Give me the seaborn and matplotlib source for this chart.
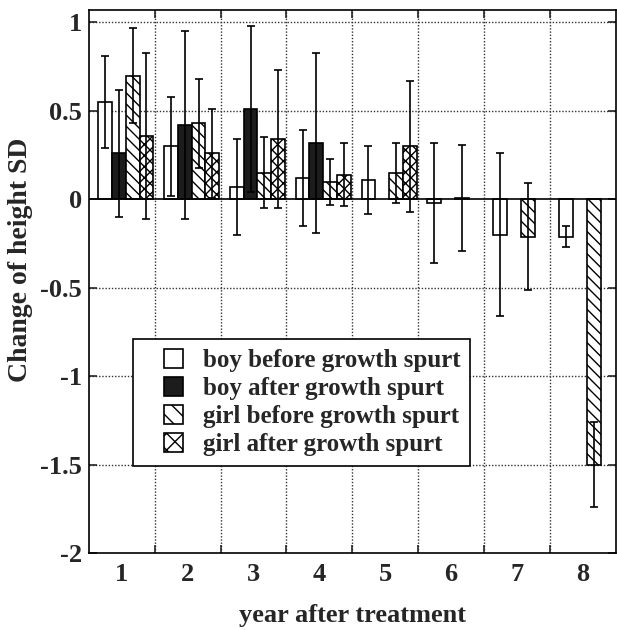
import numpy as np
import pandas as pd
import seaborn as sns
import matplotlib
matplotlib.use("Agg")
import matplotlib.pyplot as plt
from matplotlib.patches import Patch, Rectangle
from matplotlib.legend_handler import HandlerPatch
from matplotlib.ticker import FixedLocator

# ---------------- data ----------------
years = [1, 2, 3, 4, 5, 6, 7, 8]
groups = ["boy before growth spurt", "boy after growth spurt",
          "girl before growth spurt", "girl after growth spurt"]
nan = np.nan
boy_before = [0.55, 0.30, 0.07, 0.12, 0.11, -0.02, -0.20, -0.21]
boy_before_sd = [0.26, 0.28, 0.27, 0.27, 0.19, 0.34, 0.46, 0.06]
boy_after = [0.26, 0.42, 0.51, 0.32, nan, nan, nan, nan]
boy_after_sd = [0.36, 0.53, 0.47, 0.51, nan, nan, nan, nan]
girl_before = [0.70, 0.43, 0.15, 0.10, 0.15, 0.01, -0.21, -1.50]
girl_before_sd = [0.27, 0.25, 0.20, 0.13, 0.17, 0.30, 0.30, 0.24]
girl_after = [0.36, 0.26, 0.34, 0.14, 0.30, nan, nan, nan]
girl_after_sd = [0.47, 0.25, 0.39, 0.18, 0.37, nan, nan, nan]
y_ticks = [-2, -1.5, -1, -0.5, 0, 0.5, 1]
y_ticklabels = ["-2", "-1.5", "-1", "-0.5", "0", "0.5", "1"]

values = [boy_before, boy_after, girl_before, girl_after]
sds = [boy_before_sd, boy_after_sd, girl_before_sd, girl_after_sd]

rows = []
for g, v, s in zip(groups, values, sds):
    for y, val, sd in zip(years, v, s):
        rows.append({"year": y, "group": g, "value": val, "sd": sd})
df = pd.DataFrame(rows)

# ---------------- style ----------------
sns.set_theme(style="white")
plt.rcParams["font.family"] = ["Liberation Serif", "DejaVu Serif"]
plt.rcParams["font.weight"] = "bold"
plt.rcParams["hatch.linewidth"] = 1.0
plt.rcParams["hatch.color"] = "black"

fills = ["white", "#1c1c1c", "white", "white"]
hatches = ["", "", "\\\\\\", "xxx"]

fig = plt.figure(figsize=(6.17, 6.30), dpi=100)
ax = fig.add_axes([0.144, 0.122, 0.854, 0.862])

sns.barplot(data=df, x="year", y="value", hue="group", order=years,
            hue_order=groups, palette=fills, width=0.84, errorbar=None,
            edgecolor="black", linewidth=1.2, legend=False, ax=ax,
            saturation=1, zorder=2)

shift = 0.06
bar_containers = list(ax.containers)
for gi, cont in enumerate(bar_containers):
    xs, ys, es = [], [], []
    for p in cont.patches:
        h = p.get_height()
        if not np.isfinite(h):
            continue
        p.set_hatch(hatches[gi])
        p.set_edgecolor("black")
        p.set_x(p.get_x() + shift)
        xc = p.get_x() + p.get_width() / 2
        idx = int(round(xc - shift))
        xs.append(xc)
        ys.append(h)
        es.append(sds[gi][idx])
    ax.errorbar(xs, ys, yerr=es, fmt="none", ecolor="black", elinewidth=1.2,
                capsize=3, capthick=1.2, zorder=4)

ax.axhline(0, color="black", lw=1.2, zorder=3)

ax.set_xlim(-0.5, 7.5)
ax.set_ylim(-2, 1.07)
ax.set_yticks(y_ticks)
ax.set_yticklabels(y_ticklabels)
ax.xaxis.set_minor_locator(FixedLocator(np.arange(0.5, 7.0, 1.0)))
ax.grid(False)
for yv in [-1.5, -1, -0.5, 0.5, 1]:
    ax.axhline(yv, color="#333333", lw=1.0, ls=(0, (1, 1.3)), zorder=0.5)
for xv in np.arange(0.5, 7.0, 1.0):
    ax.axvline(xv, color="#333333", lw=1.0, ls=(0, (1, 1.3)), zorder=0.5)

ax.tick_params(axis="x", which="major", length=0, pad=7, labelsize=19)
ax.tick_params(axis="x", which="minor", direction="in", length=6, width=1.2,
               top=True, bottom=True)
ax.tick_params(axis="y", which="major", direction="in", length=6, width=1.2,
               left=True, right=True, pad=5, labelsize=19)
for lab in ax.get_xticklabels() + ax.get_yticklabels():
    lab.set_fontweight("bold")

for sp in ax.spines.values():
    sp.set_visible(True)
    sp.set_color("black")
    sp.set_linewidth(1.2)

ax.set_xlabel("year after treatment", fontsize=19, fontweight="bold",
              labelpad=13)
ax.set_ylabel("Change of height SD", fontsize=20, fontweight="bold")
ax.yaxis.set_label_coords(-0.106, 0.54)


def square_handle(legend, orig_handle, xdescent, ydescent, width, height,
                  fontsize):
    sq = 0.76 * fontsize
    return Rectangle((-xdescent + width - sq, -ydescent + (height - sq) / 2),
                     sq, sq)


handles = [Patch(facecolor=f, edgecolor="black", hatch=h, linewidth=1.2)
           for f, h in zip(fills, ["", "", "\\\\", "xx"])]
leg = ax.legend(handles, groups, loc="upper left",
                bbox_to_anchor=(0.083, 0.394), borderaxespad=0,
                prop={"family": "Liberation Serif", "weight": "bold",
                      "size": 18},
                handlelength=1.6, handletextpad=0.8,
                labelspacing=0.2, borderpad=0.4, fancybox=False,
                framealpha=1, edgecolor="black",
                handler_map={Patch: HandlerPatch(patch_func=square_handle)})
leg.get_frame().set_linewidth(1.2)
leg.set_zorder(6)

fig.savefig("out.png", dpi=100)
